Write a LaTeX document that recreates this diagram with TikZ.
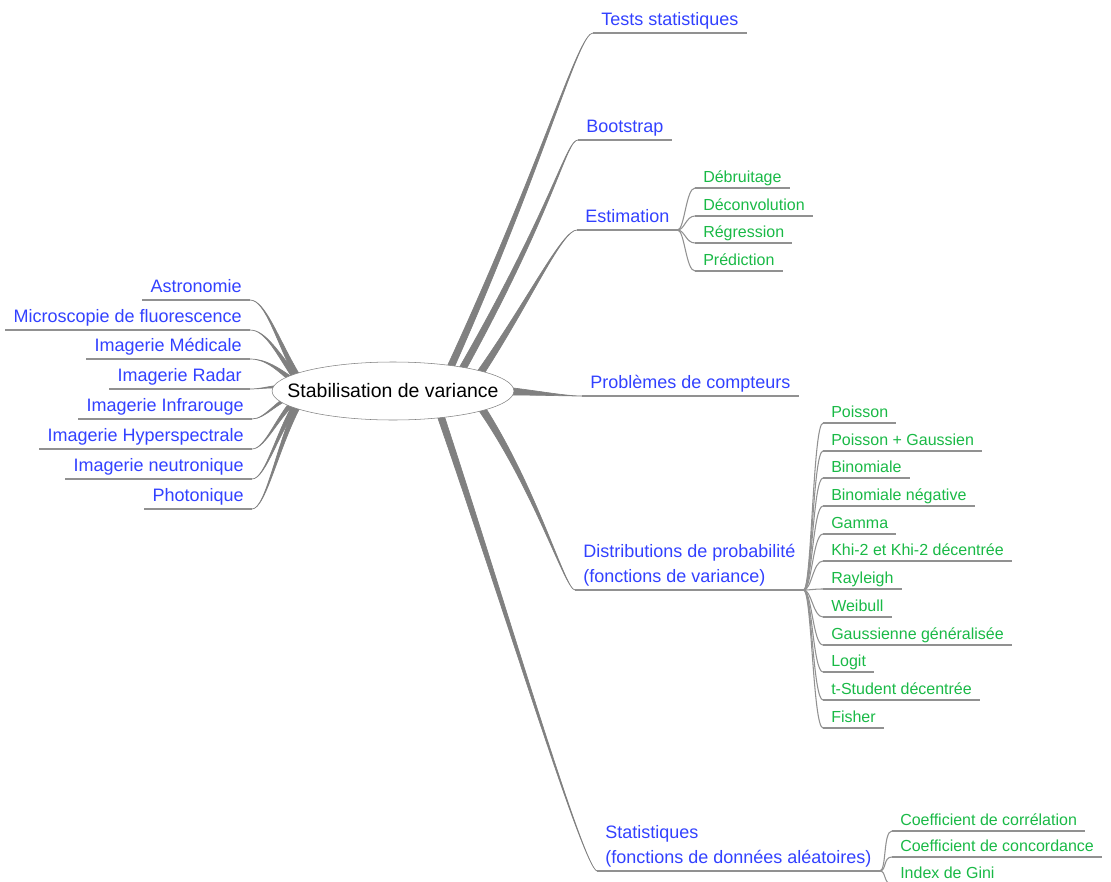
\documentclass[tikz,border=0pt]{standalone}
\usepackage{fontspec}
\setmainfont{Liberation Sans}
\usetikzlibrary{shapes.geometric,calc}

\definecolor{topicblue}{RGB}{50,65,255}
\definecolor{leafgreen}{RGB}{25,185,70}
\definecolor{trunkgray}{RGB}{128,128,128}
\definecolor{linegray}{RGB}{145,145,145}

\tikzset{
  centre/.style={ellipse, draw=trunkgray, fill=white, minimum height=43.5pt,
    inner xsep=-15pt, inner ysep=0pt, font=\fontsize{14.6}{17}\selectfont},
  topic/.style={text=topicblue, font=\fontsize{13.5}{18.5}\selectfont, inner xsep=6pt,
    inner ysep=2.2pt, text depth=3.5pt, align=left},
  leaf/.style={text=leafgreen, font=\fontsize{12}{14}\selectfont, inner xsep=6pt,
    inner ysep=1.5pt, text depth=2.5pt, anchor=south west},
  uline/.style={draw=linegray, line width=0.8pt},
  twig/.style={draw=linegray, line width=0.8pt},
  trunk/.style={fill=trunkgray, draw=trunkgray, line width=0.5pt},
}

% tapered band: root, control 1, control 2, end, half width
\newcommand{\band}[5]{%
  \path[trunk] ($(#1)+(#5)$) .. controls ($(#2)+0.5*(#5)$) and (#3) .. (#4)
    .. controls (#3) and ($(#2)-0.5*(#5)$) .. ($(#1)-(#5)$) -- cycle;}

\begin{document}
\begin{tikzpicture}[x=0.75pt,y=-0.75pt]
\useasboundingbox (0,0) rectangle (1111,882);

% right topics
\node[topic,anchor=south west] (tests) at (593,33) {Tests statistiques};
\node[topic,anchor=south west] (boot) at (578,140) {Bootstrap};
\node[topic,anchor=south west] (estim) at (577,230) {Estimation};
\node[topic,anchor=south west] (compt) at (582,396) {Problèmes de compteurs};
\node[topic,anchor=south west] (distr) at (575,590) {Distributions de probabilité\\(fonctions de variance)};
\node[topic,anchor=south west] (stats) at (597,871) {Statistiques\\(fonctions de données aléatoires)};

% left topics
\node[topic,anchor=south east] (astro) at (250,300) {Astronomie};
\node[topic,anchor=south east] (micro) at (250,330) {Microscopie de fluorescence};
\node[topic,anchor=south east] (medic) at (250,359) {Imagerie Médicale};
\node[topic,anchor=south east] (radar) at (250,389) {Imagerie Radar};
\node[topic,anchor=south east] (infra) at (252,419) {Imagerie Infrarouge};
\node[topic,anchor=south east] (hyper) at (252,449) {Imagerie Hyperspectrale};
\node[topic,anchor=south east] (neutro) at (252,479) {Imagerie neutronique};
\node[topic,anchor=south east] (photo) at (252,509) {Photonique};

% estimation
\node[leaf] (debr) at (695,188) {Débruitage};
\node[leaf] (deconv) at (695,216) {Déconvolution};
\node[leaf] (regr) at (695,243) {Régression};
\node[leaf] (pred) at (695,271) {Prédiction};

% distributions
\node[leaf] (poiss) at (823,423) {Poisson};
\node[leaf] (poigau) at (823,451) {Poisson + Gaussien};
\node[leaf] (binom) at (823,478) {Binomiale};
\node[leaf] (binneg) at (823,506) {Binomiale négative};
\node[leaf] (gamma) at (823,534) {Gamma};
\node[leaf] (khi) at (823,561) {Khi-2 et Khi-2 décentrée};
\node[leaf] (rayl) at (823,589) {Rayleigh};
\node[leaf] (weib) at (823,617) {Weibull};
\node[leaf] (gengau) at (823,645) {Gaussienne généralisée};
\node[leaf] (logit) at (823,672) {Logit};
\node[leaf] (tstud) at (823,700) {t-Student décentrée};
\node[leaf] (fish) at (823,728) {Fisher};

% statistiques
\node[leaf] (correl) at (892,831) {Coefficient de corrélation};
\node[leaf] (concord) at (892,857) {Coefficient de concordance};
\node[leaf] (gini) at (892,884) {Index de Gini};

\foreach \n in {tests,boot,estim,compt,distr,stats,astro,micro,medic,radar,infra,hyper,neutro,photo,
  debr,deconv,regr,pred,poiss,poigau,binom,binneg,gamma,khi,rayl,weib,gengau,logit,tstud,fish,
  correl,concord,gini}
  \draw[uline] (\n.south west) -- (\n.south east);

\foreach \n in {debr,deconv,regr,pred}
  \draw[twig] (estim.south east) .. controls +(7,0) and +(-9,0) .. (\n.south west);
\foreach \n in {poiss,poigau,binom,binneg,gamma,khi,rayl,weib,gengau,logit,tstud,fish}
  \draw[twig] (distr.south east) .. controls +(8,0) and +(-10,0) .. (\n.south west);
\foreach \n in {correl,concord,gini}
  \draw[twig] (stats.south east) .. controls +(7,0) and +(-9,0) .. (\n.south west);

% roots under the ellipse
\coordinate (rtests) at (447,375);
\coordinate (rboot) at (459,375);
\coordinate (restim) at (479,375);
\coordinate (rcompt) at (505,391);
\coordinate (rdistr) at (476,400);
\coordinate (rstats) at (437,405);
\coordinate (lastro) at (300,381);
\coordinate (lmicro) at (300,384);
\coordinate (lmedic) at (300,386.5);
\coordinate (lradar) at (300,389.5);
\coordinate (linfra) at (300,392.5);
\coordinate (lhyper) at (300,395.5);
\coordinate (lneutro) at (300,398.5);
\coordinate (lphoto) at (300,401.5);

\band{rtests}{545,160}{578,33}{tests.south west}{3.2,1.35}
\band{rboot}{555,205}{566,140}{boot.south west}{3.15,1.5}
\band{restim}{530,300}{562,230}{estim.south west}{2.9,2}
\band{rcompt}{540,393}{565,396}{compt.south west}{0,4}
\band{rdistr}{535,485}{565,590}{distr.south west}{3.3,-1.8}
\band{rstats}{500,590}{583,868}{stats.south west}{3.3,-1.1}

\band{lastro}{278,343}{266,300}{astro.south east}{2.6,-1.5}
\band{lmicro}{278,354}{266,330}{micro.south east}{2.4,-1.8}
\band{lmedic}{278,368.5}{266,359}{medic.south east}{1.9,-2.3}
\band{lradar}{278,383.5}{266,389}{radar.south east}{0,3}
\band{linfra}{278,398.5}{266,419}{infra.south east}{0.8,2.9}
\band{lhyper}{278,413.5}{266,449}{hyper.south east}{1.9,2.3}
\band{lneutro}{278,428.5}{266,479}{neutro.south east}{2.4,1.8}
\band{lphoto}{278,443.5}{266,509}{photo.south east}{2.6,1.4}

\node[centre] (hub) at (393,391) {Stabilisation de variance};
\end{tikzpicture}
\end{document}
